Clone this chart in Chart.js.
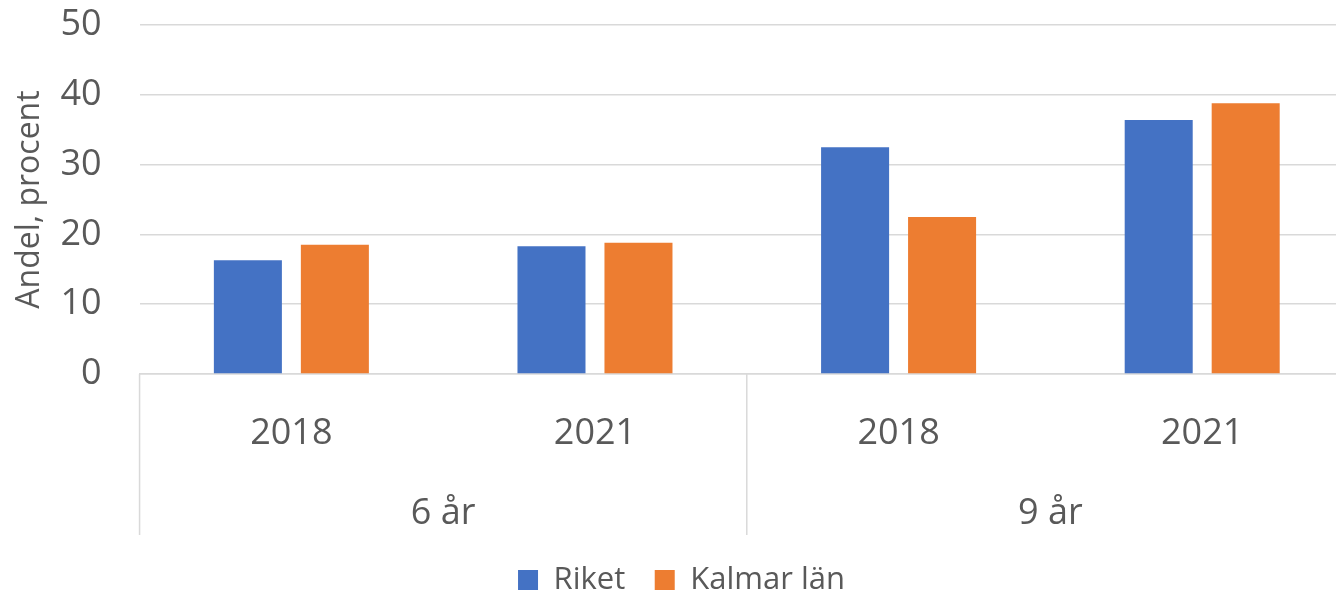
<!DOCTYPE html>
<html>
<head>
<meta charset="utf-8">
<script src="https://cdn.jsdelivr.net/npm/chart.js@4/dist/chart.umd.min.js"></script>
<style>
  html, body { margin: 0; padding: 0; background: #fff; overflow: hidden; }
  #wrap { width: 1360px; height: 595px; }
</style>
</head>
<body>
<div id="wrap"><canvas id="chart"></canvas></div>
<script>
const years = ['2018', '2021', '2018', '2021'];
const ageGroups = ['6 år', '9 år'];
const riket = [16.3, 18.3, 32.5, 36.4];
const kalmar = [18.5, 18.8, 22.5, 38.8];
const yTicks = [0, 10, 20, 30, 40, 50];

const textColor = '#595959';
const lineColor = '#D9D9D9';
const fontFamily = '"Open Sans", sans-serif';

// vertical separators for the grouped category axis
const groupLines = {
  id: 'groupLines',
  afterDraw(chart) {
    const x = chart.scales.x;
    const x2 = chart.scales.x2;
    const mid = (x.getPixelForValue(1) + x.getPixelForValue(2)) / 2;
    const ctx = chart.ctx;
    ctx.save();
    ctx.strokeStyle = lineColor;
    ctx.lineWidth = 1.5;
    [x.left, mid, x.right].forEach(px => {
      ctx.beginPath();
      ctx.moveTo(px, x.top);
      ctx.lineTo(px, x2.bottom);
      ctx.stroke();
    });
    ctx.restore();
  }
};

new Chart(document.getElementById('chart'), {
  type: 'bar',
  data: {
    labels: years,
    datasets: [
      { label: 'Riket', data: riket, backgroundColor: '#4472C4' },
      { label: 'Kalmar län', data: kalmar, backgroundColor: '#ED7D31' }
    ]
  },
  options: {
    responsive: true,
    maintainAspectRatio: false,
    animation: false,
    categoryPercentage: 0.573,
    barPercentage: 0.782,
    layout: { padding: { left: 9, right: 6, top: 25, bottom: -10.5 } },
    plugins: {
      tooltip: { enabled: false },
      legend: {
        position: 'bottom',
        labels: {
          boxWidth: 20,
          boxHeight: 20,
          padding: 29.5,
          color: textColor,
          font: { family: fontFamily, size: 31 }
        }
      }
    },
    scales: {
      x: {
        grid: { display: false, drawTicks: false },
        border: { display: true, color: lineColor, width: 1.5 },
        ticks: { color: textColor, padding: 38, font: { family: fontFamily, size: 36 } },
        afterFit: scale => { scale.height = 75; }
      },
      x2: {
        type: 'category',
        labels: ageGroups,
        position: 'bottom',
        offset: true,
        grid: { display: false, drawTicks: false },
        border: { display: false },
        ticks: { color: textColor, padding: 43, font: { family: fontFamily, size: 36 } },
        afterFit: scale => { scale.height = 86; }
      },
      y: {
        min: 0,
        max: 50,
        afterBuildTicks: axis => { axis.ticks = yTicks.map(v => ({ value: v })); },
        grid: { color: lineColor, lineWidth: 1.5, drawTicks: true, tickLength: 38, tickColor: 'transparent' },
        border: { display: false },
        ticks: { color: textColor, padding: 0, font: { family: fontFamily, size: 36 } },
        title: {
          display: true,
          text: 'Andel, procent',
          color: textColor,
          padding: { top: 2, bottom: 11 },
          font: { family: fontFamily, size: 32 }
        }
      }
    }
  },
  plugins: [groupLines]
});
</script>
</body>
</html>
